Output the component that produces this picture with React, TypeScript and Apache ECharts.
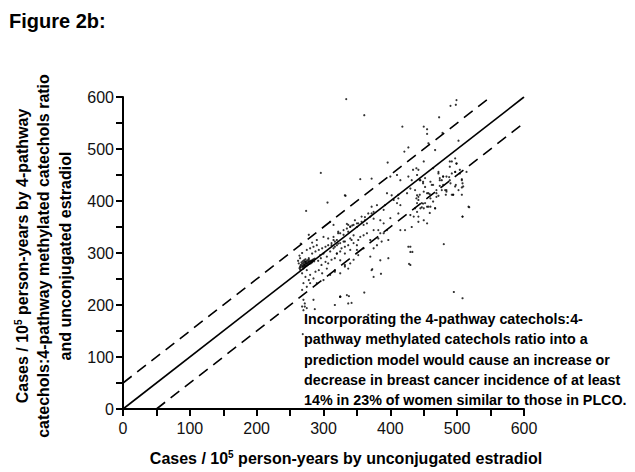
import React, { useEffect, useRef } from "react";
import * as echarts from "echarts";

const FONT = '"Liberation Sans", Arial, Helvetica, sans-serif';

const axisTicks = [0, 100, 200, 300, 400, 500, 600];

const identityLine = [[0, 0], [600, 600]];
const upperBound = [[0, 50], [550, 600]];
const lowerBound = [[50, 0], [600, 550]];

const clusterPoints = [
  [266, 272], [268, 275], [270, 276], [271, 278], [272, 277], [273, 280], [274, 279], [275, 281],
  [276, 280], [277, 283], [278, 282], [279, 284], [280, 283], [281, 285], [282, 284], [268, 279],
  [270, 281], [272, 283], [274, 284], [276, 286], [278, 287], [266, 277], [269, 273], [271, 274],
  [273, 275], [275, 276], [277, 278], [279, 279], [281, 280], [283, 282], [284, 286], [285, 288],
  [267, 282], [269, 284], [271, 286], [273, 288], [265, 268], [264, 271], [286, 284], [287, 289],
];

const lowBandPoints = [
  [275, 306], [280, 309], [285, 312], [290, 315], [283, 299], [288, 303], [293, 306], [298, 309],
  [303, 312], [307, 315], [312, 319], [295, 296], [300, 299], [305, 293], [310, 303], [315, 309],
  [320, 315], [325, 319], [330, 322], [327, 309], [332, 312], [337, 315], [345, 319], [350, 315],
  [320, 299], [325, 303], [312, 287], [317, 290], [303, 283], [307, 280], [297, 277], [305, 270],
  [293, 267], [298, 261], [288, 264], [275, 267], [270, 270], [268, 261], [273, 254], [278, 248],
  [280, 258], [285, 251], [270, 242], [275, 235], [268, 229], [280, 242], [290, 242], [300, 248],
  [310, 258], [317, 264], [325, 261], [332, 274], [340, 280], [345, 287], [352, 296], [265, 274],
  [263, 280], [273, 283], [278, 290], [283, 286], [265, 290], [285, 210], [270, 190], [325, 216],
  [335, 219], [337, 203], [330, 335], [278, 335], [290, 325], [300, 331], [307, 328], [315, 331],
  [322, 338], [337, 341], [268, 197], [272, 203], [275, 194], [317, 200], [342, 204], [269, 144],
  [367, 181], [270, 210], [272, 197], [287, 192], [325, 216], [338, 217], [361, 224], [373, 269],
  [386, 260], [268, 300], [264, 295], [266, 318], [262, 285], [283, 320], [292, 285], [296, 290],
];

const midBandPoints = [
  [332, 411], [402, 411], [395, 415], [412, 405], [410, 396], [415, 392], [440, 411], [442, 402],
  [437, 421], [450, 418], [452, 396], [457, 389], [445, 386], [440, 379], [430, 373], [435, 370],
  [412, 376], [400, 367], [390, 357], [385, 363], [372, 376], [370, 370], [375, 366], [365, 357],
  [357, 360], [360, 354], [352, 357], [350, 350], [347, 363], [340, 350], [337, 354], [330, 344],
  [325, 338], [322, 341], [317, 322], [315, 325], [320, 325], [312, 315], [317, 312], [322, 318],
  [332, 322], [340, 328], [345, 334], [342, 325], [352, 325], [355, 331], [360, 334], [365, 338],
  [375, 344], [382, 344], [385, 338], [390, 338], [395, 344], [370, 325], [382, 328], [387, 322],
  [397, 325], [380, 315], [375, 309], [360, 309], [350, 306], [340, 306], [332, 299], [320, 299],
  [325, 286], [332, 277], [337, 270], [317, 267], [370, 293], [385, 286], [397, 290], [427, 312],
  [430, 302], [430, 277], [442, 360], [432, 350], [422, 344], [415, 344], [372, 267], [375, 254],
  [442, 370], [450, 363], [455, 357], [310, 360], [315, 354], [335, 356], [343, 353], [362, 369],
  [372, 389], [367, 376], [362, 363], [357, 370], [350, 357], [345, 354], [340, 351], [335, 347],
  [380, 392], [375, 379], [390, 383], [392, 392], [405, 402], [412, 412], [425, 415], [430, 424],
];

const highBandPoints = [
  [472, 456], [479, 447], [488, 446], [490, 434], [497, 456], [507, 442], [508, 434], [507, 426],
  [514, 456], [498, 431], [474, 440], [474, 429], [482, 421], [483, 412], [492, 412], [494, 412],
  [472, 410], [507, 412], [517, 389], [508, 370], [459, 377], [467, 386], [455, 389], [447, 396],
  [447, 388], [462, 431], [464, 431], [449, 437], [457, 415], [459, 413], [467, 498], [450, 476],
  [442, 460], [440, 450], [432, 440], [445, 440], [452, 444], [460, 437], [464, 463], [472, 453],
  [474, 444], [479, 447], [489, 466], [492, 476], [499, 472], [497, 456], [504, 453], [507, 440],
  [489, 440], [479, 431], [497, 428], [469, 421], [477, 421], [484, 418], [494, 412], [509, 428],
  [442, 408], [455, 415], [460, 405], [440, 396], [437, 386], [450, 386], [460, 389], [467, 386],
  [400, 447], [410, 450], [415, 440], [427, 447], [434, 460], [439, 463], [444, 440], [449, 434],
  [452, 427], [444, 412], [439, 405], [449, 395], [464, 399], [469, 408], [477, 440], [484, 447],
  [492, 453], [499, 472], [497, 482], [489, 476], [504, 460], [502, 421], [469, 415], [484, 421],
];

const outlierPoints = [
  [334, 596], [361, 565], [418, 543], [450, 543], [473, 561], [490, 583], [498, 585], [499, 594],
  [296, 454], [274, 381], [306, 397], [333, 410], [355, 442], [372, 443], [396, 474], [421, 495],
  [427, 503], [518, 388], [508, 370], [480, 317], [430, 312], [433, 302], [428, 279], [495, 225],
  [508, 213], [325, 216], [455, 538], [455, 529], [457, 511], [478, 531], [502, 516],
];

const allPoints = [
  ...clusterPoints,
  ...lowBandPoints,
  ...midBandPoints,
  ...highBandPoints,
  ...outlierPoints,
];

const annotationLines = [
  "Incorporating the 4-pathway catechols:4-",
  "pathway methylated catechols ratio into a",
  "prediction model would cause an increase or",
  "decrease in breast cancer incidence of at least",
  "14% in 23% of women similar to those in PLCO.",
];

const yTitleLines = [
  "{a|Cases / 10}{s|5}{a| person-years by 4-pathway}",
  "{a|catechols:4-pathway methylated catechols ratio}",
  "{a|and unconjugated estradiol}",
];

const xTitle = "{a|Cases / 10}{s|5}{a| person-years by unconjugated estradiol}";

export default function App() {
  const ref = useRef<HTMLDivElement>(null);

  useEffect(() => {
    if (!ref.current) return;
    const chart = echarts.init(ref.current, undefined, { renderer: "svg" });

    const rich = {
      a: { fontFamily: FONT, fontWeight: "bold", fontSize: 16, lineHeight: 18, color: "#000" },
      s: {
        fontFamily: FONT,
        fontWeight: "bold",
        fontSize: 10,
        lineHeight: 18,
        verticalAlign: "top",
        color: "#000",
      },
    };

    const axisCommon = {
      type: "value",
      min: 0,
      max: 600,
      interval: 100,
      splitLine: { show: false },
      axisLine: { show: true, onZero: false, lineStyle: { color: "#000", width: 2 } },
      axisTick: { show: true, inside: false, length: 7, lineStyle: { color: "#000", width: 2 } },
      minorTick: { show: true, splitNumber: 2, length: 7, lineStyle: { color: "#000", width: 2 } },
      axisLabel: {
        fontFamily: FONT,
        fontSize: 16,
        color: "#111",
        formatter: (v: number) => (axisTicks.includes(v) ? String(v) : ""),
      },
    };

    chart.setOption({
      animation: false,
      backgroundColor: "#fff",
      grid: { left: 123, top: 97, width: 401, height: 312, containLabel: false },
      xAxis: { ...axisCommon, axisLabel: { ...axisCommon.axisLabel, margin: 11 } },
      yAxis: { ...axisCommon, axisLabel: { ...axisCommon.axisLabel, margin: 9 } },
      series: [
        {
          type: "line",
          data: identityLine,
          symbol: "none",
          lineStyle: { color: "#000", width: 1.6 },
          z: 3,
        },
        {
          type: "line",
          data: upperBound,
          symbol: "none",
          lineStyle: { color: "#000", width: 1.6, type: [11, 7] },
          z: 3,
        },
        {
          type: "line",
          data: lowerBound,
          symbol: "none",
          lineStyle: { color: "#000", width: 1.6, type: [11, 7] },
          z: 3,
        },
        {
          type: "scatter",
          data: allPoints,
          symbol: "circle",
          symbolSize: 2.2,
          itemStyle: { color: "#000" },
          z: 4,
        },
      ],
      graphic: [
        {
          type: "text",
          x: 9,
          y: 21,
          style: {
            text: "Figure 2b:",
            font: `bold 20px ${FONT}`,
            fill: "#000",
            textVerticalAlign: "middle",
          },
        },
        {
          type: "text",
          x: 346,
          y: 458,
          style: {
            text: xTitle,
            rich,
            textAlign: "center",
            textVerticalAlign: "middle",
          },
        },
        ...yTitleLines.map((t, i) => ({
          type: "text",
          x: 22 + i * 21.5,
          y: 256,
          rotation: Math.PI / 2,
          style: {
            text: t,
            rich,
            textAlign: "center",
            textVerticalAlign: "middle",
          },
        })),
        {
          type: "text",
          x: 304,
          y: 309,
          z: 10,
          style: {
            text: annotationLines.join("\n"),
            font: `bold 14.3px ${FONT}`,
            lineHeight: 20.2,
            fill: "#000",
            textVerticalAlign: "top",
          },
        },
      ],
    });

    return () => chart.dispose();
  }, []);

  return (
    <div
      ref={ref}
      style={{ position: "absolute", left: 0, top: 0, width: 635, height: 472, background: "#fff" }}
    />
  );
}
